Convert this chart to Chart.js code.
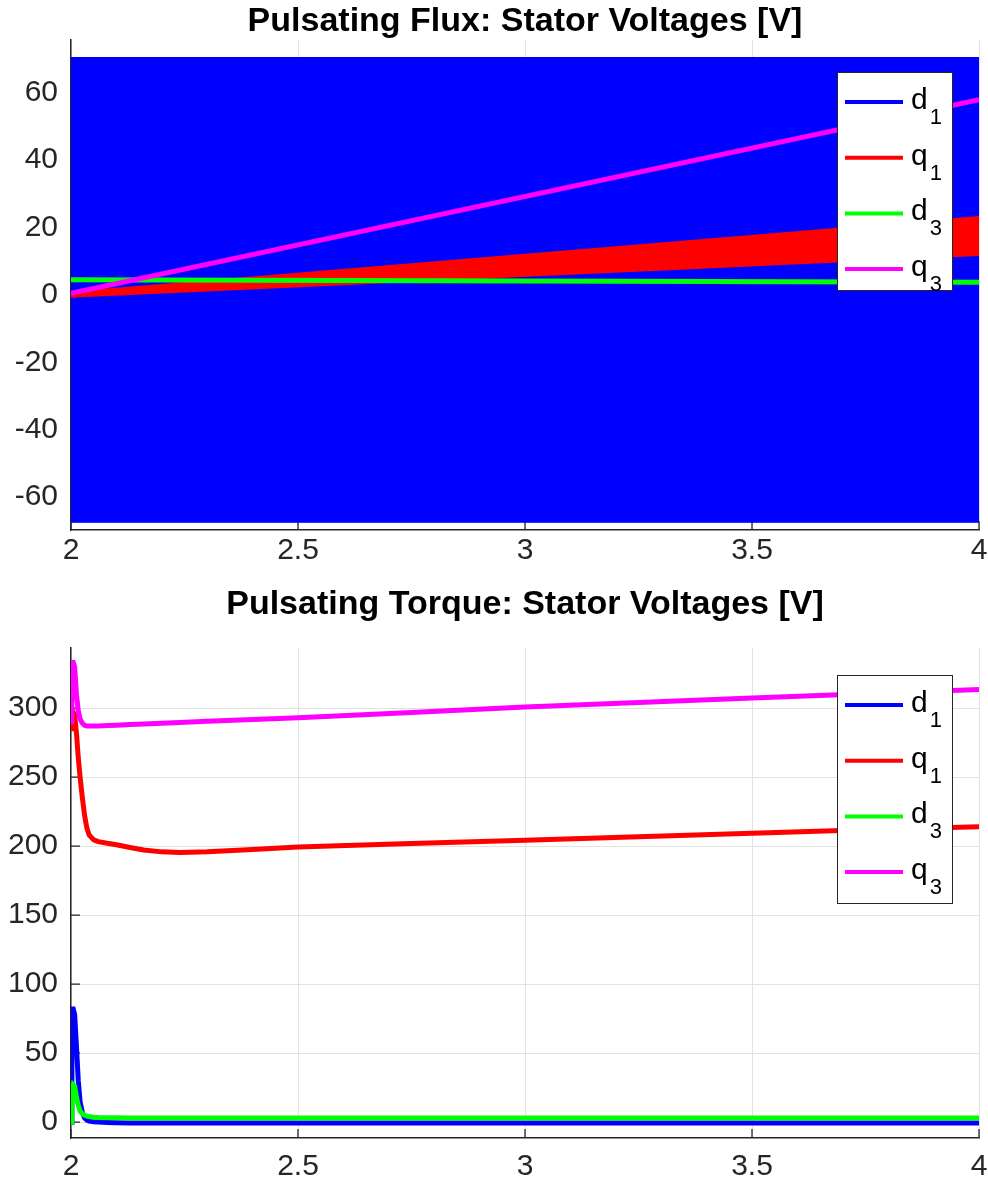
<!DOCTYPE html>
<html>
<head>
<meta charset="utf-8">
<title>Stator Voltages</title>
<script src="https://cdn.jsdelivr.net/npm/chart.js@4.4.1/dist/chart.umd.min.js"></script>
<style>
  html, body { margin: 0; padding: 0; background: #fff; }
  #wrap { position: relative; width: 988px; height: 1189px; }
  canvas { position: absolute; left: 0; }
  #fluxChart { top: 0; }
  #torqueChart { top: 570px; }
</style>
</head>
<body>
<div id="wrap">
  <canvas id="fluxChart" width="988" height="570"></canvas>
  <canvas id="torqueChart" width="988" height="619"></canvas>
</div>
<script>
// Axis ticks
const xTicks = [2, 2.5, 3, 3.5, 4];
const fluxYTicks = [-60, -40, -20, 0, 20, 40, 60];
const torqueYTicks = [0, 50, 100, 150, 200, 250, 300];

// Legend entries: letter + subscript
const seriesNames = [['d', '1'], ['q', '1'], ['d', '3'], ['q', '3']];
const seriesColors = ['#0000ff', '#ff0000', '#00ff00', '#ff00ff'];

// Pulsating flux case: d1 is a fast oscillation, kept as its envelope;
// q1 ripples inside a widening band
const fluxTime = [2, 4];
const fluxD1Upper = [70.5, 70.5];
const fluxD1Lower = [-67.5, -67.5];
const fluxQ1Upper = [0.6, 23];
const fluxQ1Lower = [-0.4, 12];
const fluxD3 = [4.5, 3.8];
const fluxQ3 = [0.5, 58];

// Pulsating torque case
const torqueTime = [2.000, 2.002, 2.005, 2.008, 2.012, 2.016, 2.020, 2.025, 2.030, 2.035,
  2.040, 2.050, 2.060, 2.080, 2.100, 2.130, 2.160, 2.200, 2.240, 2.300, 2.400,
  2.500, 2.750, 3.000, 3.250, 3.500, 3.750, 4.000];
const torqueD1 = [0, 82, 82, 78, 55, 30, 15, 7, 3, 1.5,
  0.8, 0.2, 0, -0.3, -0.5, -0.6, -0.6, -0.6, -0.6, -0.6, -0.6,
  -0.6, -0.6, -0.6, -0.6, -0.6, -0.6, -0.6];
const torqueQ1 = [285, 292, 297, 295, 282, 264, 250, 235, 222, 213,
  208, 204.5, 203.2, 202, 201, 199, 197.2, 195.8, 195.4, 195.9, 197.6,
  199.3, 201.8, 204.3, 206.8, 209.3, 211.8, 214];
const torqueD3 = [0, 22, 27, 26, 18, 12, 8, 6, 5, 4.3,
  4, 3.6, 3.4, 3.2, 3.1, 3, 3, 3, 3, 3, 3,
  3, 3, 3, 3, 3, 3, 3];
const torqueQ3 = [290, 333, 333, 330, 310, 298, 292, 289, 287.5, 287,
  287, 287, 287, 287.3, 287.6, 288, 288.4, 289, 289.6, 290.5, 291.7,
  292.9, 296.8, 300.7, 304, 307.2, 310.4, 313.5];

const FONT = '"Liberation Sans", Arial, Helvetica, sans-serif';
const AXIS_COLOR = '#262626';

function pts(xs, ys) {
  return xs.map(function (x, i) { return { x: x, y: ys[i] }; });
}

function lineSet(xs, ys, color, order, extra) {
  return Object.assign({
    data: pts(xs, ys),
    borderColor: color,
    backgroundColor: color,
    borderWidth: 5,
    pointRadius: 0,
    tension: 0,
    fill: false,
    order: order,
  }, extra || {});
}

// Title centred over the plot area
const axesTitle = {
  id: 'axesTitle',
  afterDraw(chart, args, opts) {
    const ctx = chart.ctx;
    const a = chart.chartArea;
    ctx.save();
    ctx.font = 'bold 34px ' + FONT;
    ctx.fillStyle = '#000';
    ctx.textAlign = 'center';
    ctx.textBaseline = 'alphabetic';
    ctx.fillText(opts.text, (a.left + a.right) / 2, a.top - opts.gap);
    ctx.restore();
  },
};

// Tick marks pointing into the plot
const inwardTicks = {
  id: 'inwardTicks',
  beforeDatasetsDraw(chart) {
    const ctx = chart.ctx;
    const a = chart.chartArea;
    const xs = chart.scales.x;
    const ys = chart.scales.y;
    ctx.save();
    ctx.strokeStyle = AXIS_COLOR;
    ctx.lineWidth = 1.3;
    ctx.beginPath();
    xs.ticks.forEach(function (t) {
      const px = xs.getPixelForValue(t.value);
      ctx.moveTo(px, a.bottom);
      ctx.lineTo(px, a.bottom - 9);
    });
    ys.ticks.forEach(function (t) {
      const py = ys.getPixelForValue(t.value);
      ctx.moveTo(a.left, py);
      ctx.lineTo(a.left + 9, py);
    });
    ctx.stroke();
    ctx.restore();
  },
};

// Boxed legend with subscripted names
const boxLegend = {
  id: 'boxLegend',
  afterDraw(chart, args, opts) {
    const ctx = chart.ctx;
    const a = chart.chartArea;
    const w = 115;
    const left = a.right - opts.right - w;
    const top = a.top + opts.top;
    ctx.save();
    ctx.fillStyle = '#fff';
    ctx.fillRect(left, top, w, opts.height);
    ctx.strokeStyle = '#262626';
    ctx.lineWidth = 1;
    ctx.strokeRect(left + 0.5, top + 0.5, w, opts.height);
    seriesNames.forEach(function (name, i) {
      const cy = top + 30 + i * opts.step;
      ctx.strokeStyle = seriesColors[i];
      ctx.lineWidth = 4;
      ctx.beginPath();
      ctx.moveTo(left + 8, cy);
      ctx.lineTo(left + 66, cy);
      ctx.stroke();
      ctx.fillStyle = '#000';
      ctx.textAlign = 'left';
      ctx.textBaseline = 'alphabetic';
      ctx.font = '30px ' + FONT;
      ctx.fillText(name[0], left + 74, cy + 7);
      const wMain = ctx.measureText(name[0]).width;
      ctx.font = '22px ' + FONT;
      ctx.fillText(name[1], left + 76 + wMain, cy + 22);
    });
    ctx.restore();
  },
};

function makeOptions(cfg) {
  return {
    responsive: false,
    animation: false,
    devicePixelRatio: 1,
    layout: { padding: { top: cfg.padTop, right: 9, bottom: 4, left: 0 } },
    plugins: {
      legend: { display: false },
      tooltip: { enabled: false },
      title: { display: false },
      axesTitle: { text: cfg.title, gap: cfg.titleGap },
      boxLegend: { top: cfg.legendTop, right: 27, height: cfg.legendHeight, step: cfg.legendStep },
    },
    scales: {
      x: {
        type: 'linear',
        min: 2,
        max: 4,
        afterBuildTicks: function (s) { s.ticks = xTicks.map(function (v) { return { value: v }; }); },
        afterFit: function (s) {
          s.height = cfg.xAxisHeight;
          s.paddingLeft = 0;
          s.paddingRight = 0;
        },
        grid: { color: '#e2e2e2', lineWidth: 1, drawTicks: false },
        border: { display: true, color: AXIS_COLOR, width: 1.5 },
        ticks: {
          color: AXIS_COLOR,
          font: { family: FONT, size: 30 },
          padding: cfg.xPad,
          maxRotation: 0,
          autoSkip: false,
          callback: function (v) { return String(v); },
        },
      },
      y: {
        type: 'linear',
        min: cfg.yMin,
        max: cfg.yMax,
        afterBuildTicks: function (s) { s.ticks = cfg.yTicks.map(function (v) { return { value: v }; }); },
        afterFit: function (s) {
          s.width = 71;
          s.paddingTop = 0;
          s.paddingBottom = 0;
        },
        grid: { color: '#e2e2e2', lineWidth: 1, drawTicks: false },
        border: { display: true, color: AXIS_COLOR, width: 1.5 },
        ticks: {
          color: AXIS_COLOR,
          font: { family: FONT, size: 30 },
          padding: 13,
          autoSkip: false,
          callback: function (v) { return String(v); },
        },
      },
    },
  };
}

// Pulsating flux
new Chart(document.getElementById('fluxChart'), {
  type: 'line',
  data: {
    datasets: [
      lineSet(fluxTime, fluxD1Upper, seriesColors[0], 3, { fill: '+1', borderWidth: 1 }),
      lineSet(fluxTime, fluxD1Lower, seriesColors[0], 3, { borderWidth: 1 }),
      lineSet(fluxTime, fluxQ1Upper, seriesColors[1], 2, { fill: '+1', borderWidth: 3 }),
      lineSet(fluxTime, fluxQ1Lower, seriesColors[1], 2, { borderWidth: 3 }),
      lineSet(fluxTime, fluxD3, seriesColors[2], 1),
      lineSet(fluxTime, fluxQ3, seriesColors[3], 0),
    ],
  },
  options: makeOptions({
    title: 'Pulsating Flux: Stator Voltages [V]',
    titleGap: 9,
    padTop: 40,
    xAxisHeight: 36,
    xPad: 3,
    yMin: -69.8,
    yMax: 75.7,
    yTicks: fluxYTicks,
    legendTop: 32,
    legendHeight: 218,
    legendStep: 55.7,
  }),
  plugins: [inwardTicks, axesTitle, boxLegend],
});

// Pulsating torque
new Chart(document.getElementById('torqueChart'), {
  type: 'line',
  data: {
    datasets: [
      lineSet(torqueTime, torqueD1, seriesColors[0], 3),
      lineSet(torqueTime, torqueQ1, seriesColors[1], 2),
      lineSet(torqueTime, torqueD3, seriesColors[2], 1),
      lineSet(torqueTime, torqueQ3, seriesColors[3], 0),
    ],
  },
  options: makeOptions({
    title: 'Pulsating Torque: Stator Voltages [V]',
    titleGap: 34,
    padTop: 78,
    xAxisHeight: 47,
    xPad: 11,
    yMin: -11.5,
    yMax: 343.5,
    yTicks: torqueYTicks,
    legendTop: 27,
    legendHeight: 228,
    legendStep: 55.7,
  }),
  plugins: [inwardTicks, axesTitle, boxLegend],
});
</script>
</body>
</html>
